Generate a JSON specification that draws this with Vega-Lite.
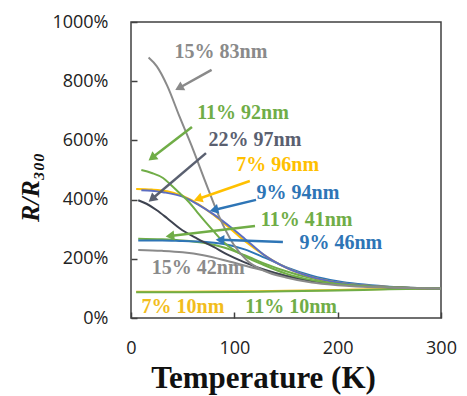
{
  "$schema": "https://vega.github.io/schema/vega-lite/v6.json",
  "width": 310,
  "height": 296,
  "autosize": "none",
  "padding": {"left": 131, "top": 22, "right": 26, "bottom": 78},
  "background": "white",
  "config": {
    "view": {"stroke": "#404040", "strokeWidth": 1.5},
    "axis": {"grid": false, "domain": false, "labelFlush": false}
  },
  "resolve": {"scale": {"color": "independent"}},
  "datasets": {
    "curves": [
      {"s": "7% 10nm", "T": 5, "v": 89}, {"s": "7% 10nm", "T": 50, "v": 89}, {"s": "7% 10nm", "T": 100, "v": 90}, {"s": "7% 10nm", "T": 150, "v": 92}, {"s": "7% 10nm", "T": 200, "v": 95}, {"s": "7% 10nm", "T": 250, "v": 98}, {"s": "7% 10nm", "T": 300, "v": 100},
      {"s": "11% 10nm", "T": 5, "v": 87}, {"s": "11% 10nm", "T": 50, "v": 87}, {"s": "11% 10nm", "T": 100, "v": 88}, {"s": "11% 10nm", "T": 150, "v": 90}, {"s": "11% 10nm", "T": 200, "v": 93}, {"s": "11% 10nm", "T": 250, "v": 97}, {"s": "11% 10nm", "T": 300, "v": 100},
      {"s": "15% 42nm", "T": 7, "v": 230}, {"s": "15% 42nm", "T": 30, "v": 227}, {"s": "15% 42nm", "T": 50, "v": 222}, {"s": "15% 42nm", "T": 70, "v": 212}, {"s": "15% 42nm", "T": 96, "v": 190}, {"s": "15% 42nm", "T": 120, "v": 168}, {"s": "15% 42nm", "T": 150, "v": 143}, {"s": "15% 42nm", "T": 175, "v": 126}, {"s": "15% 42nm", "T": 200, "v": 115}, {"s": "15% 42nm", "T": 250, "v": 104}, {"s": "15% 42nm", "T": 300, "v": 100},
      {"s": "11% 41nm", "T": 7, "v": 268}, {"s": "11% 41nm", "T": 30, "v": 266}, {"s": "11% 41nm", "T": 50, "v": 262}, {"s": "11% 41nm", "T": 70, "v": 254}, {"s": "11% 41nm", "T": 90, "v": 238}, {"s": "11% 41nm", "T": 110, "v": 212}, {"s": "11% 41nm", "T": 130, "v": 183}, {"s": "11% 41nm", "T": 150, "v": 158}, {"s": "11% 41nm", "T": 175, "v": 134}, {"s": "11% 41nm", "T": 200, "v": 118}, {"s": "11% 41nm", "T": 250, "v": 104}, {"s": "11% 41nm", "T": 300, "v": 100},
      {"s": "9% 46nm", "T": 7, "v": 262}, {"s": "9% 46nm", "T": 30, "v": 262}, {"s": "9% 46nm", "T": 50, "v": 260}, {"s": "9% 46nm", "T": 70, "v": 258}, {"s": "9% 46nm", "T": 90, "v": 250}, {"s": "9% 46nm", "T": 110, "v": 232}, {"s": "9% 46nm", "T": 130, "v": 203}, {"s": "9% 46nm", "T": 150, "v": 172}, {"s": "9% 46nm", "T": 175, "v": 143}, {"s": "9% 46nm", "T": 200, "v": 124}, {"s": "9% 46nm", "T": 250, "v": 106}, {"s": "9% 46nm", "T": 300, "v": 100},
      {"s": "22% 97nm", "T": 7, "v": 398}, {"s": "22% 97nm", "T": 15, "v": 386}, {"s": "22% 97nm", "T": 25, "v": 364}, {"s": "22% 97nm", "T": 35, "v": 337}, {"s": "22% 97nm", "T": 47, "v": 303}, {"s": "22% 97nm", "T": 64, "v": 268}, {"s": "22% 97nm", "T": 80, "v": 240}, {"s": "22% 97nm", "T": 93, "v": 215}, {"s": "22% 97nm", "T": 110, "v": 188}, {"s": "22% 97nm", "T": 130, "v": 162}, {"s": "22% 97nm", "T": 150, "v": 142}, {"s": "22% 97nm", "T": 175, "v": 125}, {"s": "22% 97nm", "T": 200, "v": 114}, {"s": "22% 97nm", "T": 225, "v": 108}, {"s": "22% 97nm", "T": 250, "v": 104}, {"s": "22% 97nm", "T": 275, "v": 101}, {"s": "22% 97nm", "T": 300, "v": 100},
      {"s": "7% 96nm", "T": 5, "v": 436}, {"s": "7% 96nm", "T": 20, "v": 434}, {"s": "7% 96nm", "T": 35, "v": 428}, {"s": "7% 96nm", "T": 50, "v": 412}, {"s": "7% 96nm", "T": 65, "v": 385}, {"s": "7% 96nm", "T": 80, "v": 348}, {"s": "7% 96nm", "T": 95, "v": 305}, {"s": "7% 96nm", "T": 110, "v": 260}, {"s": "7% 96nm", "T": 130, "v": 210}, {"s": "7% 96nm", "T": 150, "v": 170}, {"s": "7% 96nm", "T": 175, "v": 138}, {"s": "7% 96nm", "T": 200, "v": 120}, {"s": "7% 96nm", "T": 250, "v": 105}, {"s": "7% 96nm", "T": 300, "v": 100},
      {"s": "9% 94nm", "T": 10, "v": 432}, {"s": "9% 94nm", "T": 20, "v": 430}, {"s": "9% 94nm", "T": 31, "v": 425}, {"s": "9% 94nm", "T": 50, "v": 410}, {"s": "9% 94nm", "T": 65, "v": 383}, {"s": "9% 94nm", "T": 80, "v": 350}, {"s": "9% 94nm", "T": 96, "v": 308}, {"s": "9% 94nm", "T": 110, "v": 268}, {"s": "9% 94nm", "T": 128, "v": 215}, {"s": "9% 94nm", "T": 150, "v": 170}, {"s": "9% 94nm", "T": 175, "v": 138}, {"s": "9% 94nm", "T": 200, "v": 120}, {"s": "9% 94nm", "T": 250, "v": 105}, {"s": "9% 94nm", "T": 300, "v": 100},
      {"s": "11% 92nm", "T": 10, "v": 500}, {"s": "11% 92nm", "T": 20, "v": 490}, {"s": "11% 92nm", "T": 31, "v": 473}, {"s": "11% 92nm", "T": 40, "v": 445}, {"s": "11% 92nm", "T": 47, "v": 422}, {"s": "11% 92nm", "T": 56, "v": 392}, {"s": "11% 92nm", "T": 64, "v": 358}, {"s": "11% 92nm", "T": 79, "v": 297}, {"s": "11% 92nm", "T": 90, "v": 255}, {"s": "11% 92nm", "T": 112, "v": 205}, {"s": "11% 92nm", "T": 128, "v": 180}, {"s": "11% 92nm", "T": 150, "v": 150}, {"s": "11% 92nm", "T": 175, "v": 128}, {"s": "11% 92nm", "T": 200, "v": 115}, {"s": "11% 92nm", "T": 250, "v": 104}, {"s": "11% 92nm", "T": 300, "v": 100},
      {"s": "15% 83nm", "T": 17, "v": 880}, {"s": "15% 83nm", "T": 25, "v": 850}, {"s": "15% 83nm", "T": 35, "v": 785}, {"s": "15% 83nm", "T": 47, "v": 680}, {"s": "15% 83nm", "T": 60, "v": 570}, {"s": "15% 83nm", "T": 72, "v": 460}, {"s": "15% 83nm", "T": 85, "v": 345}, {"s": "15% 83nm", "T": 99, "v": 250}, {"s": "15% 83nm", "T": 112, "v": 195}, {"s": "15% 83nm", "T": 130, "v": 158}, {"s": "15% 83nm", "T": 150, "v": 137}, {"s": "15% 83nm", "T": 175, "v": 120}, {"s": "15% 83nm", "T": 200, "v": 111}, {"s": "15% 83nm", "T": 250, "v": 103}, {"s": "15% 83nm", "T": 300, "v": 100}
    ],
    "arrows": [
      {"s": "15% 83nm", "T1": 78, "v1": 838, "T2": 46.5, "v2": 777},
      {"s": "11% 92nm", "T1": 59, "v1": 645, "T2": 20.3, "v2": 541},
      {"s": "22% 97nm", "T1": 72.6, "v1": 557, "T2": 20.3, "v2": 402},
      {"s": "7% 96nm", "T1": 115, "v1": 463, "T2": 64.8, "v2": 402},
      {"s": "9% 94nm", "T1": 121, "v1": 399, "T2": 80.3, "v2": 365},
      {"s": "11% 41nm", "T1": 120, "v1": 311, "T2": 37.7, "v2": 277},
      {"s": "9% 46nm", "T1": 147, "v1": 257, "T2": 86.1, "v2": 264}
    ],
    "labels": [
      {"s": "15% 83nm", "T": 87, "v": 899},
      {"s": "11% 92nm", "T": 108.4, "v": 693},
      {"s": "22% 97nm", "T": 120, "v": 601},
      {"s": "7% 96nm", "T": 142, "v": 517},
      {"s": "9% 94nm", "T": 161.6, "v": 422},
      {"s": "11% 41nm", "T": 170, "v": 331},
      {"s": "9% 46nm", "T": 203, "v": 253},
      {"s": "15% 42nm", "T": 65, "v": 169},
      {"s": "7% 10nm", "T": 50.3, "v": 37},
      {"s": "11% 10nm", "T": 155, "v": 37}
    ]
  },
  "layer": [
    {
      "data": {"name": "curves"},
      "mark": {"type": "line", "strokeWidth": 2, "interpolate": "monotone"},
      "encoding": {
        "x": {
          "field": "T", "type": "quantitative",
          "scale": {"domain": [0, 300], "nice": false},
          "axis": {
            "values": [0, 100, 200, 300],
            "tickSize": -6, "tickColor": "#404040", "tickWidth": 1.5,
            "labelFont": "Open Sans", "labelFontSize": 18, "labelColor": "#222222", "labelPadding": 27,
            "title": "Temperature (K)", "titleFont": "Liberation Serif", "titleFontSize": 31, "titleFontWeight": "bold", "titleColor": "#111111",
            "titleX": 132, "titleY": 69, "titleBaseline": "alphabetic", "titleAlign": "center"
          }
        },
        "y": {
          "field": "v", "type": "quantitative",
          "scale": {"domain": [0, 1000], "nice": false},
          "axis": {
            "values": [0, 200, 400, 600, 800, 1000],
            "labelExpr": "datum.value + '%'",
            "tickSize": -6, "tickColor": "#404040", "tickWidth": 1.5,
            "labelFont": "Open Sans", "labelFontSize": 18, "labelColor": "#222222", "labelPadding": 29,
            "title": "R/R₃₀₀", "titleFont": "Liberation Serif", "titleFontSize": 26, "titleFontWeight": "bold", "titleFontStyle": "italic", "titleColor": "#111111",
            "titleAngle": -90, "titleX": -101, "titleY": 165, "titleAlign": "center", "titleBaseline": "middle"
          }
        },
        "color": {
          "field": "s", "type": "nominal", "legend": null,
          "scale": {
            "domain": ["7% 10nm", "11% 10nm", "15% 42nm", "11% 41nm", "9% 46nm", "22% 97nm", "7% 96nm", "9% 94nm", "11% 92nm", "15% 83nm"],
            "range": ["#f2bd1d", "#70ad47", "#8a8a8a", "#70ad47", "#2e75b6", "#3e4350", "#ffc000", "#5b6dc2", "#70ad47", "#8a8a8a"]
          }
        },
        "detail": {"field": "s"},
        "order": {"field": "T", "type": "quantitative"}
      }
    },
    {
      "data": {"name": "arrows"},
      "mark": {"type": "rule", "strokeWidth": 2.5},
      "encoding": {
        "x": {"field": "T1", "type": "quantitative"},
        "y": {"field": "v1", "type": "quantitative"},
        "x2": {"field": "T2"},
        "y2": {"field": "v2"},
        "color": {
          "field": "s", "type": "nominal", "legend": null,
          "scale": {
            "domain": ["7% 10nm", "11% 10nm", "15% 42nm", "11% 41nm", "9% 46nm", "22% 97nm", "7% 96nm", "9% 94nm", "11% 92nm", "15% 83nm"],
            "range": ["#f2bd1d", "#70ad47", "#8a8a8a", "#70ad47", "#2e75b6", "#5a6070", "#ffc000", "#2e75b6", "#70ad47", "#8a8a8a"]
          }
        }
      }
    },
    {
      "data": {"name": "arrows"},
      "transform": [
        {"calculate": "atan2((datum.T2 - datum.T1) * 1.0333, (datum.v2 - datum.v1) * 0.296) * 180 / PI", "as": "ang"}
      ],
      "mark": {"type": "point", "shape": "triangle-up", "filled": true, "opacity": 1, "size": 100},
      "encoding": {
        "x": {"field": "T2", "type": "quantitative"},
        "y": {"field": "v2", "type": "quantitative"},
        "angle": {"field": "ang", "type": "quantitative", "scale": null},
        "color": {
          "field": "s", "type": "nominal", "legend": null,
          "scale": {
            "domain": ["7% 10nm", "11% 10nm", "15% 42nm", "11% 41nm", "9% 46nm", "22% 97nm", "7% 96nm", "9% 94nm", "11% 92nm", "15% 83nm"],
            "range": ["#f2bd1d", "#70ad47", "#8a8a8a", "#70ad47", "#2e75b6", "#5a6070", "#ffc000", "#2e75b6", "#70ad47", "#8a8a8a"]
          }
        }
      }
    },
    {
      "data": {"name": "labels"},
      "mark": {"type": "text", "font": "Liberation Serif", "fontSize": 20, "fontWeight": "bold", "align": "center", "baseline": "middle"},
      "encoding": {
        "x": {"field": "T", "type": "quantitative"},
        "y": {"field": "v", "type": "quantitative"},
        "text": {"field": "s"},
        "color": {
          "field": "s", "type": "nominal", "legend": null,
          "scale": {
            "domain": ["7% 10nm", "11% 10nm", "15% 42nm", "11% 41nm", "9% 46nm", "22% 97nm", "7% 96nm", "9% 94nm", "11% 92nm", "15% 83nm"],
            "range": ["#f2bd1d", "#70ad47", "#8a8a8a", "#70ad47", "#2e75b6", "#5a6070", "#ffc000", "#2e75b6", "#70ad47", "#8a8a8a"]
          }
        }
      }
    }
  ]
}
